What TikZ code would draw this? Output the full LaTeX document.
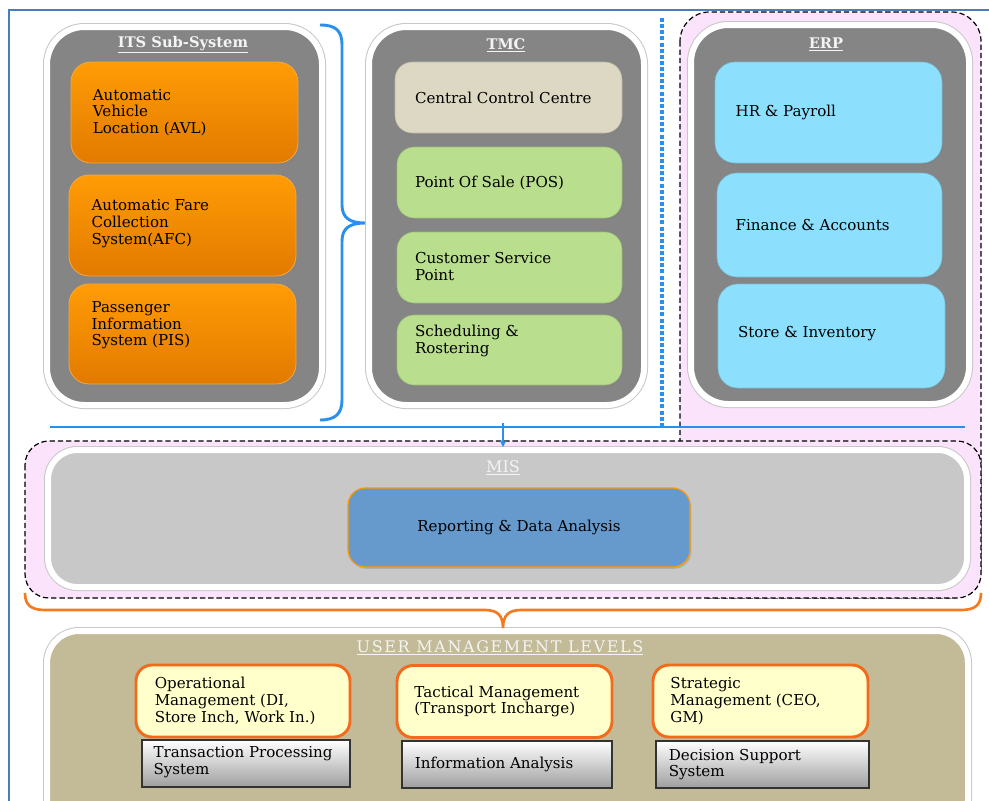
\documentclass[tikz,border=0pt]{standalone}
\usepackage{fontspec}
\setmainfont{DejaVu Serif}
\usetikzlibrary{shadows,arrows.meta}
\definecolor{framecol}{HTML}{4A7EBB}
\definecolor{panelgray}{HTML}{858585}
\definecolor{orangetop}{HTML}{FF9C05}
\definecolor{orangebot}{HTML}{E27A00}
\definecolor{orangeedge}{HTML}{F7A83A}
\definecolor{beige}{HTML}{DDD8C3}
\definecolor{lgreen}{HTML}{B9DE8E}
\definecolor{lblue}{HTML}{8CE0FD}
\definecolor{misblue}{HTML}{6699CC}
\definecolor{pinkfill}{HTML}{FBE4FB}
\definecolor{misgray}{HTML}{C8C8C8}
\definecolor{tan}{HTML}{C3BA97}
\definecolor{lyellow}{HTML}{FFFFCC}
\definecolor{yedge}{HTML}{F26B1D}
\definecolor{bluebrace}{HTML}{2B90EC}
\definecolor{obrace}{HTML}{F47A20}
\definecolor{titlewhite}{HTML}{F4F4F4}
\begin{document}
\begin{tikzpicture}[x=0.75pt,y=-0.75pt,
  panel/.style={draw=white, line width=4.5pt, fill=panelgray, rounded corners=28pt,
    preaction={draw=black!22, line width=6pt}},
  wh/.style 2 args={minimum width=#1*0.75pt, minimum height=#2*0.75pt, inner sep=0pt},
  shad/.style={drop shadow={opacity=0.35, shadow xshift=1pt, shadow yshift=-1.4pt}},
  orangebox/.style={rectangle, rounded corners=15pt, top color=orangetop, bottom color=orangebot, draw=orangeedge, line width=0.6pt, shad},
  beigebox/.style={rectangle, rounded corners=13pt, fill=beige, draw=beige!85!black, line width=0.4pt, shad},
  greenbox/.style={rectangle, rounded corners=13pt, fill=lgreen, draw=lgreen!85!black, line width=0.4pt, shad},
  bluebox/.style={rectangle, rounded corners=15pt, fill=lblue, draw=lblue!85!black, line width=0.4pt, shad},
  misbox/.style={rectangle, rounded corners=13pt, fill=misblue, draw=orange!80!yellow, line width=0.9pt, shad},
  ybox/.style={rectangle, rounded corners=12pt, fill=lyellow, draw=yedge, line width=2.2pt},
  gbox/.style={rectangle, top color=white, bottom color=black!38, draw=black!80, line width=1.1pt},
  lbl/.style={font=\fontsize{11.3}{12.6}\selectfont, align=left, inner sep=0pt, anchor=west, text=black},
  ttl/.style={font=\bfseries\fontsize{11}{13}\selectfont, text=titlewhite, inner sep=0pt},
  pinkreg/.style={fill=pinkfill, draw=black, dash pattern=on 4pt off 2.2pt, line width=0.9pt},
  bline/.style={draw=bluebrace, line width=1.6pt},
]
\useasboundingbox (0,0) rectangle (989,800);
\fill[white] (0,0) rectangle (989,800);
% outer frame
\draw[framecol, line width=1pt] (9,10) rectangle (1000,830);

% pink dashed regions
\draw[pinkreg, rounded corners=22pt] (680,12) rectangle (981,598);
\draw[pinkreg, rounded corners=18pt] (25,441) rectangle (981,598);

% panels
\node[panel, wh={275}{378}] (its) at (184.5,216) {};
\node[panel, wh={275}{378}] (tmc) at (506.5,216) {};
\node[panel, wh={278}{379}] (erp) at (830,214.5) {};
\node[panel, fill=misgray, rounded corners=22pt, wh={919}{137}] (mis) at (507.5,518.5) {};
\node[panel, fill=tan, rounded corners=24pt, wh={921}{199}] (uml) at (507.5,730.5) {};

% titles
\node[ttl] (itsT) at (183,45) {\underline{ITS Sub-System}};
\node[ttl] (tmcT) at (506,45) {\underline{TMC}};
\node[ttl] (erpT) at (826,44) {\underline{ERP}};
\node[ttl, font=\fontsize{12}{14}\selectfont] (misT) at (503,468) {\underline{MIS}};
\node[ttl, font=\fontsize{12}{14}\selectfont\addfontfeature{LetterSpace=10}] (umlT) at (500,648) {\underline{USER MANAGEMENT LEVELS}};

% ITS boxes
\node[orangebox, wh={227}{101}] (avl) at (184.5,112.5) {};
\node[orangebox, wh={227}{101}] (afc) at (182.5,225.5) {};
\node[orangebox, wh={227}{100}] (pis) at (182.5,334) {};
\node[lbl] (avlT) at ([xshift=16.5pt]avl.west) {Automatic\\Vehicle\\Location (AVL)};
\node[lbl] (afcT) at ([xshift=17pt,yshift=1.5pt]afc.west) {Automatic Fare\\Collection\\System(AFC)};
\node[lbl] (pisT) at ([xshift=17pt,yshift=6.5pt]pis.west) {Passenger\\Information\\System (PIS)};

% TMC boxes
\node[beigebox, wh={227}{71}] (ccc) at (508.5,97.5) {};
\node[greenbox, wh={225}{71}] (pos) at (509.5,182.5) {};
\node[greenbox, wh={225}{71}] (csp) at (509.5,267.5) {};
\node[greenbox, wh={225}{70}] (sch) at (509.5,350) {};
\node[lbl] (cccT) at ([xshift=15pt]ccc.west) {Central Control Centre};
\node[lbl] (posT) at ([xshift=13.5pt]pos.west) {Point Of Sale (POS)};
\node[lbl] (cspT) at ([xshift=13.5pt,yshift=1pt]csp.west) {Customer Service\\Point};
\node[lbl] (schT) at ([xshift=13.5pt,yshift=7pt]sch.west) {Scheduling \&\\Rostering};

% ERP boxes
\node[bluebox, wh={227}{101}] (hr) at (828.5,112.5) {};
\node[bluebox, wh={225}{104}] (fin) at (829.5,225) {};
\node[bluebox, wh={227}{104}] (sto) at (831.5,336) {};
\node[lbl] (hrT) at ([xshift=15.5pt]hr.west) {HR \& Payroll};
\node[lbl] (finT) at ([xshift=14pt]fin.west) {Finance \& Accounts};
\node[lbl] (stoT) at ([xshift=15pt,yshift=1.5pt]sto.west) {Store \& Inventory};

% MIS box
\node[misbox, wh={342}{79}, font=\fontsize{11.3}{13}\selectfont, text=black] (rda) at (519,527.5) {Reporting \& Data Analysis};

% user management boxes
\node[ybox, wh={214}{72}] (opm) at (243,701) {};
\node[ybox, wh={215}{72}] (tam) at (504.5,701.5) {};
\node[ybox, wh={215}{72}] (stm) at (760.5,701) {};
\node[lbl] (opmT) at ([xshift=15pt]opm.west) {Operational\\Management (DI,\\Store Inch, Work In.)};
\node[lbl] (tamT) at ([xshift=14pt]tam.west) {Tactical Management\\(Transport Incharge)};
\node[lbl] (stmT) at ([xshift=14pt]stm.west) {Strategic\\Management (CEO,\\GM)};

\node[gbox, wh={208}{47}] (tps) at (246,763.5) {};
\node[gbox, wh={210}{47}] (ian) at (507,764.5) {};
\node[gbox, wh={213}{47}] (dss) at (762.5,764.5) {};
\node[lbl] (tpsT) at ([xshift=9pt,yshift=0.8pt]tps.west) {Transaction Processing\\System};
\node[lbl] (ianT) at ([xshift=10pt]ian.west) {Information Analysis};
\node[lbl] (dssT) at ([xshift=10pt]dss.west) {Decision Support\\System};

% blue brace between ITS and TMC
\draw[bluebrace, line width=2.2pt] (320,25) .. controls (335,25) and (342,30) .. (342,45) -- (342,205) .. controls (342,218) and (350,223) .. (365,223) .. controls (350,223) and (342,228) .. (342,241) -- (342,400) .. controls (342,414) and (335,420) .. (320,420);

% separator lines
\coordinate (hl) at (50,427);
\coordinate (hr2) at (965,427);
\coordinate (vt) at (662,18);
\coordinate (vb) at (662,427);
\coordinate (arrS) at (503,423);
\draw[bline] (hl) -- (hr2);
\draw[bluebrace, line width=2.4pt, dash pattern=on 3pt off 1.6pt] (vt) -- (vb);
\draw[bluebrace, line width=1.6pt, -{Stealth[length=5pt,width=5pt]}] (arrS) -- (arrS |- mis.north);

% orange brace between MIS and user levels
\draw[obrace, line width=2pt] (25,593) .. controls (25,605) and (31,610) .. (45,610) -- (485,610) .. controls (497,610) and (503,615) .. (503,628) .. controls (503,615) and (509,610) .. (521,610) -- (961,610) .. controls (975,610) and (981,605) .. (981,593);
\end{tikzpicture}
\end{document}
